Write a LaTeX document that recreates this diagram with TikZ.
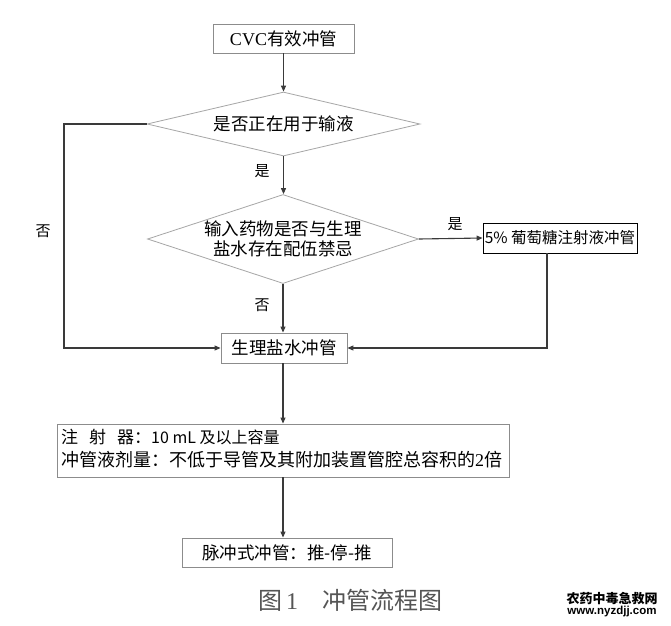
\documentclass[tikz,border=0pt]{standalone}
\usepackage{fontspec}
\setmainfont{Liberation Serif}
\setsansfont{Liberation Sans}
\newfontfamily\cjk{Noto Sans CJK SC}
\usetikzlibrary{shapes.geometric,arrows.meta}
\definecolor{boxgray}{HTML}{8C8C8C}
\definecolor{diagray}{HTML}{A6A6A6}
\definecolor{linegray}{HTML}{3A3A3A}
\definecolor{capgray}{HTML}{555555}
\begin{document}
\begin{tikzpicture}[x=1pt,y=-1pt,
  box/.style={draw=boxgray, line width=0.9pt, inner sep=0pt, font=\cjk\fontsize{17.5}{20}\selectfont},
  dia/.style={draw=diagray, line width=0.8pt, shape=diamond, inner sep=0pt},
  diatext/.style={font=\cjk\fontsize{17.5}{20}\selectfont, align=center, inner sep=0pt},
  conn/.style={draw=linegray, line width=1.1pt, -{Triangle[length=6pt,width=5pt]}},
  lbl/.style={font=\cjk\fontsize{15}{17}\selectfont, inner sep=0pt}
]
\useasboundingbox (0,0) rectangle (671,625);
\fill[white] (0,0) rectangle (671,625);

% nodes
\node[box, minimum width=141pt, minimum height=29pt] (cvc) at (283.5,38.5)
  {\rmfamily\fontsize{18}{20}\selectfont CVC\cjk\fontsize{17.5}{20}\selectfont 有效冲管};
\node[dia, minimum width=273pt, minimum height=64pt] (d1) at (283.5,124) {};
\node[diatext] at (d1) {是否正在用于输液};
\node[dia, minimum width=271pt, minimum height=89pt] (d2) at (283,239) {};
\node[diatext] at (d2) {输入药物是否与生理\\[0pt]盐水存在配伍禁忌};
\node[box, draw=black, minimum width=154pt, minimum height=30pt] (glu) at (560,238)
  {\fontsize{15.5}{18}\selectfont 5\% 葡萄糖注射液冲管};
\node[box, minimum width=126pt, minimum height=30pt] (sal) at (284,348) {生理盐水冲管};
\node[box, minimum width=452pt, minimum height=53pt] (big) at (283,450.5) {};
\node[anchor=west, inner sep=0pt, font=\cjk\fontsize{17}{20}\selectfont] (l1) at (61,437)
  {注\hspace{11pt}射\hspace{11pt}器：{\fontsize{16}{18}\selectfont 10 mL 及以上容量}};
\node[anchor=west, inner sep=0pt, font=\cjk\fontsize{18}{20}\selectfont] (l2) at (61,460)
  {冲管液剂量：不低于导管及其附加装置管腔总容积的{\rmfamily 2}倍};
\node[box, minimum width=210pt, minimum height=29pt] (pul) at (287,552.5) {脉冲式冲管：推-停-推};

% labels
\node[lbl] (yes1) at (262,171) {是};
\node[lbl] (yes2) at (455,224) {是};
\node[lbl] (no1) at (262,305) {否};
\node[lbl] (no2) at (43,231) {否};

% connectors
\coordinate (L) at (64,124);
\coordinate (R) at (547,253);
\draw[conn] (cvc.south -| d1.north) -- (d1.north);
\draw[conn] (d1.south) -- (d2.north -| d1.south);
\draw[conn] (d2.east) -- (glu.west);
\draw[conn] (d2.south) -- (d2.south |- sal.north);
\draw[conn] (d1.west) -- (L) |- (sal.west);
\draw[conn] (R) |- (sal.east);
\draw[conn] (sal.south -| d2.south) -- (d2.south |- big.north);
\draw[conn] (big.south -| d2.south) -- (d2.south |- pul.north);

% caption
\node[inner sep=0pt, text=capgray, font=\cjk\fontsize{24}{26}\selectfont, anchor=west] (cap) at (258,600)
  {图\hspace{4pt}{\rmfamily 1}\hspace{24pt}冲管流程图};
\node[inner sep=0pt, font=\cjk\bfseries\fontsize{13}{14}\selectfont] (wm1) at (612,599) {农药中毒急救网};
\node[inner sep=0pt, font=\sffamily\bfseries\fontsize{11.5}{13}\selectfont] (wm2) at (612,612) {www.nyzdjj.com};
\end{tikzpicture}
\end{document}
